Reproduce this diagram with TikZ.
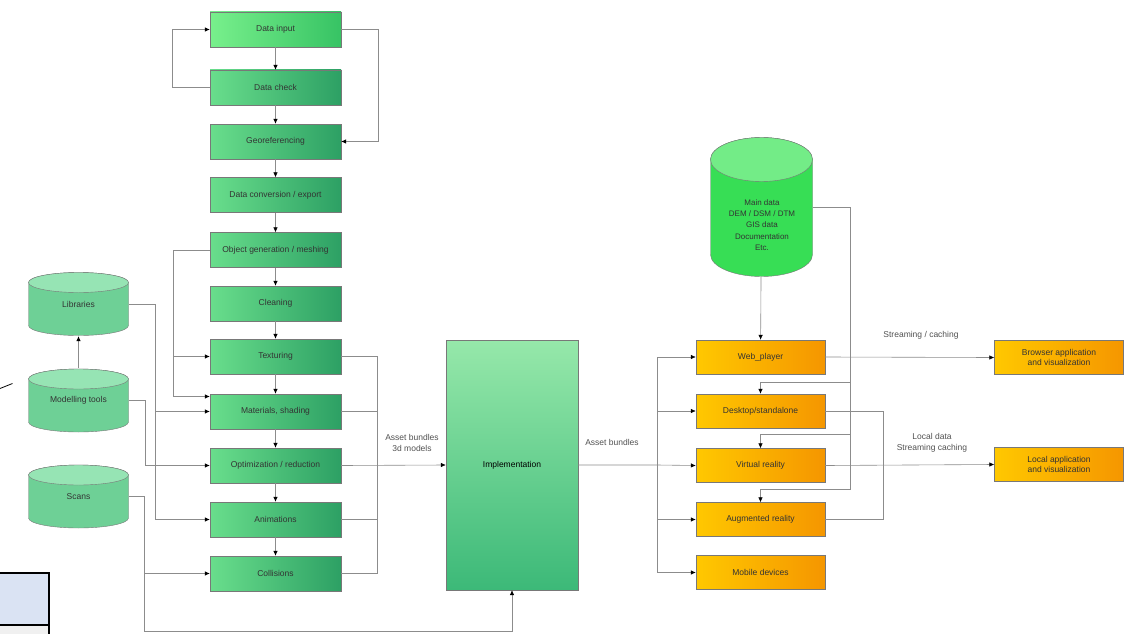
\documentclass[tikz,border=0pt]{standalone}
\usepackage{fontspec}
\setmainfont{Liberation Sans}
\usetikzlibrary{shapes,arrows.meta,calc}

\definecolor{boxline}{RGB}{120,120,120}
\definecolor{linegray}{RGB}{140,140,140}
\definecolor{greenL}{RGB}{105,222,140}
\definecolor{greenR}{RGB}{45,160,100}
\definecolor{brightL}{RGB}{120,240,140}
\definecolor{brightR}{RGB}{55,195,100}
\definecolor{orangeL}{RGB}{255,200,0}
\definecolor{orangeR}{RGB}{245,150,0}
\definecolor{implT}{RGB}{150,232,170}
\definecolor{implB}{RGB}{60,185,120}
\definecolor{storeBody}{RGB}{110,208,150}
\definecolor{storeEnd}{RGB}{150,228,180}
\definecolor{dbBody}{RGB}{55,222,85}
\definecolor{dbEnd}{RGB}{115,236,135}
\definecolor{tblue}{RGB}{218,227,243}
\definecolor{tgray}{RGB}{240,240,240}
\definecolor{notegray}{RGB}{80,80,80}

\begin{document}
\begin{tikzpicture}[x=1pt,y=-1pt,font=\fontsize{8.5}{10}\selectfont,
        >={Latex[black,length=5pt,width=4.5pt]},
        greenbox/.style={draw=boxline,left color=greenL,right color=greenR,
          minimum width=131pt,minimum height=35pt,inner sep=1pt,text=black!80},
        brightbox/.style={left color=brightL,right color=brightR},
        orangebox/.style={draw=boxline,left color=orangeL,right color=orangeR,
          minimum width=129pt,minimum height=34pt,inner sep=1pt,text=black!80,align=center},
        implbox/.style={draw=boxline,top color=implT,bottom color=implB,
          minimum width=132pt,minimum height=250pt},
        drum/.style n args={3}{rectangle,inner sep=0pt,text=black!80,
          path picture={
            \path[fill=#2,draw=boxline] let \p1=(path picture bounding box.south west),
                      \p2=(path picture bounding box.north east),
                      \n1={(\x2-\x1)/2-0.5pt} in
              (\x1+0.5pt,\y2-#1-0.5pt) -- (\x1+0.5pt,\y1+#1+0.5pt)
                arc[start angle=180,end angle=360,x radius=\n1,y radius=#1]
                -- (\x2-0.5pt,\y2-#1-0.5pt)
                arc[start angle=0,end angle=180,x radius=\n1,y radius=#1] -- cycle;
            \path[fill=#3,draw=boxline] let \p1=(path picture bounding box.south west),
                      \p2=(path picture bounding box.north east),
                      \n1={(\x2-\x1)/2-0.5pt} in
              (0.5*\x1+0.5*\x2,\y2-#1-0.5pt) ellipse[x radius=\n1,y radius=#1];
          }},
        store/.style={drum={10pt}{storeBody}{storeEnd},minimum width=101pt,minimum height=64pt},
        maindb/.style={drum={22pt}{dbBody}{dbEnd},minimum width=103pt,minimum height=140pt},
        note/.style={text=notegray,align=center,inner sep=1pt,font=\fontsize{8.5}{10.5}\selectfont},
        conn/.style={draw=linegray,line width=0.6pt,->},
        link/.style={draw=linegray,line width=0.6pt}]
        \useasboundingbox (0,0) rectangle (1140,634);
        \def\cx{275.5}
        \def\ox{760.5}
        % pipeline column
        \node[greenbox,brightbox] (din) at (\cx,29.5) {Data input};
        \node[greenbox] (dcheck) at (\cx,87.5) {Data check};
        \node[greenbox] (georef) at (\cx,141.5) {Georeferencing};
        \node[greenbox] (dconv) at (\cx,195) {Data conversion / export};
        \node[greenbox] (objgen) at (\cx,250) {Object generation / meshing};
        \node[greenbox] (clean) at (\cx,303.5) {Cleaning};
        \node[greenbox] (texture) at (\cx,356.5) {Texturing};
        \node[greenbox] (material) at (\cx,411.5) {Materials, shading};
        \node[greenbox] (optim) at (\cx,465.5) {Optimization / reduction};
        \node[greenbox] (anim) at (\cx,519.5) {Animations};
        \node[greenbox] (collis) at (\cx,573.5) {Collisions};
        \foreach \a/\b in {din/dcheck,dcheck/georef,georef/dconv,dconv/objgen,objgen/clean,
            clean/texture,texture/material,material/optim,optim/anim,anim/collis}
          \draw[conn] (\a) -- (\b);
        \draw[conn] (dcheck.west) -- ++(-38,0) |- (din.west);
        \draw[conn] (din.east) -- ++(37,0) |- (georef.east);
        \draw[conn] (objgen.west) -- ++(-37,0) coordinate (og) |- (texture.west);
        \draw[conn] (og) |- ([yshift=15pt]material.west);
        % sources
        \node[store] (lib) at (78.5,304) {Libraries};
        \node[store] (model) at (78.5,400.5) {Modelling tools};
        \node[store] (scan) at (78.5,496.5) {Scans};
        \draw[conn] (model) -- (lib);
        \draw[conn] (lib.east) -- ++(26,0) coordinate (lb) |- (anim.west);
        \draw[conn] (lb) |- (material.west);
        \draw[conn] (model.east) -- ++(16,0) |- (optim.west);
        \draw[conn] (scan.east) -- ++(15,0) coordinate (sb) |- (collis.west);
        % implementation
        \node[implbox] (impl) at (512,465) {Implementation};
        \draw[conn] (sb) -- ++(0,135) -| (impl.south);
        \draw[link] (texture.east) -- ++(36,0) coordinate (rb) -- (rb |- collis.east) -- (collis.east);
        \draw[link] (material.east) -- (rb |- material.east);
        \draw[link] (anim.east) -- (rb |- anim.east);
        \draw[conn] (optim.east) -- (impl.west);
        \node[note] (lasset) at (412,443) {Asset bundles\\3d models};
        % platforms
        \node[maindb] (maindb) at (761.5,207) {};
        \node[align=center,text=black!80,font=\fontsize{8}{11.3}\selectfont] (dbtext) at (762,225)
          {Main data\\DEM / DSM / DTM\\GIS data\\Documentation\\Etc.};
        \node[orangebox] (webp) at (\ox,357) {Web\_player};
        \node[orangebox] (desk) at (\ox,411) {Desktop/standalone};
        \node[orangebox] (vr) at (\ox,465.5) {Virtual reality};
        \node[orangebox] (ar) at (\ox,519.5) {Augmented reality};
        \node[orangebox] (mobile) at (\ox,572.5) {Mobile devices};
        \draw[conn] (impl.east) -- ++(79,0) coordinate (ob) -- (vr.west);
        \node[note] (lbund) at (612,442) {Asset bundles};
        \draw[conn] (ob) |- (webp.west);
        \draw[conn] (ob) |- (mobile.west);
        \draw[conn] (ob |- desk.west) -- (desk.west);
        \draw[conn] (ob |- ar.west) -- (ar.west);
        \draw[conn] (maindb) -- (webp);
        \draw[link] (maindb.east) -- ++(37,0) coordinate (db);
        \draw[conn] (db) -- ++(0,175) -| (desk.north);
        \draw[conn] (db) -- ++(0,227) -| (vr.north);
        \draw[conn] (db) -- ++(0,282) -| (ar.north);
        \draw[link] (desk.east) -- ++(58,0) |- (ar.east);
        % outputs
        \node[orangebox] (browser) at (1059,357.5) {Browser application\\and visualization};
        \node[orangebox] (localapp) at (1059,464.5) {Local application\\and visualization};
        \draw[conn] (webp.east) -- (browser.west);
        \draw[conn] (vr.east) -- (localapp.west);
        \node[note] (lstream) at (921,335) {Streaming / caching};
        \node[note] (llocal) at (932,443) {Local data\\Streaming caching};
        % table fragment
        \draw[line width=1.2pt,fill=tblue] (-5,573) rectangle (49,625);
        \draw[line width=1.2pt,fill=tgray] (-5,625) rectangle (49,650);
        \draw[line width=0.8pt] (0,388.5) -- (12.5,383.5);
\end{tikzpicture}
\end{document}
